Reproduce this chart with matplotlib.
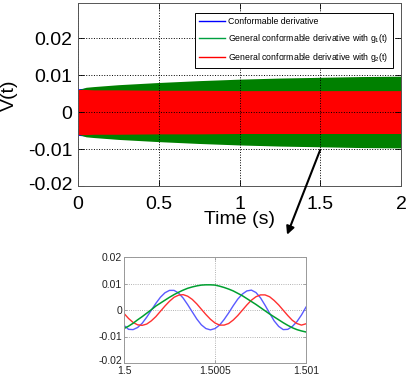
import numpy as np
import matplotlib
matplotlib.use("Agg")
import matplotlib.pyplot as plt
from matplotlib.lines import Line2D
from matplotlib.transforms import ScaledTranslation

plt.rcParams['font.family'] = ['Liberation Sans', 'DejaVu Sans']
plt.rcParams['mathtext.fontset'] = 'custom'
plt.rcParams['mathtext.rm'] = 'Liberation Sans'
plt.rcParams['mathtext.default'] = 'regular'

# envelopes of the fast oscillation over the whole 2 s
env_time = [0.0, 0.05, 0.1, 0.25, 0.5, 0.75, 1.0, 1.25, 1.5, 1.75, 2.0]
blue_amp = [0.0063, 0.0065, 0.0066, 0.0068, 0.0070, 0.0072, 0.0073, 0.0074, 0.0075, 0.0076, 0.0076]
green_amp = [0.0060, 0.0067, 0.0069, 0.0074, 0.0080, 0.0085, 0.0089, 0.0092, 0.0094, 0.0096, 0.0097]
red_amp = [0.0061, 0.0061, 0.0060, 0.0060, 0.0059, 0.0059, 0.0058, 0.0058, 0.0058, 0.0058, 0.0058]

# zoomed window 1.5 .. 1.501 s, samples every 25 us
zoom_time = 1.5 + np.arange(41) * 25e-6
zoom_blue = [-0.0058, -0.0073, -0.0074, -0.0066, -0.0050, -0.0027, -0.0001, 0.0025, 0.0048, 0.0065,
             0.0074, 0.0074, 0.0064, 0.0045, 0.0020, -0.0007, -0.0034, -0.0056, -0.0070, -0.0075,
             -0.0070, -0.0057, -0.0036, -0.0011, 0.0016, 0.0041, 0.0060, 0.0072, 0.0075, 0.0066,
             0.0046, 0.0018, -0.0012, -0.0041, -0.0062, -0.0074, -0.0073, -0.0062, -0.0044, -0.0019,
             0.0011]
zoom_green = [-0.0070, -0.0061, -0.0050, -0.0037, -0.0025, -0.0012, 0.0001, 0.0015, 0.0026, 0.0037,
              0.0048, 0.0058, 0.0067, 0.0075, 0.0082, 0.0087, 0.0091, 0.0094, 0.0095, 0.0095,
              0.0094, 0.0090, 0.0085, 0.0079, 0.0072, 0.0063, 0.0054, 0.0043, 0.0032, 0.0021,
              0.0009, -0.0003, -0.0015, -0.0026, -0.0037, -0.0048, -0.0058, -0.0067, -0.0074, -0.0079,
              -0.0083]
zoom_red = [-0.0013, -0.0032, -0.0047, -0.0056, -0.0058, -0.0053, -0.0041, -0.0025, -0.0005, 0.0015,
            0.0033, 0.0048, 0.0056, 0.0058, 0.0052, 0.0040, 0.0023, 0.0003, -0.0017, -0.0035,
            -0.0049, -0.0057, -0.0057, -0.0051, -0.0038, -0.0021, -0.0001, 0.0019, 0.0037, 0.0050,
            0.0057, 0.0057, 0.0050, 0.0036, 0.0019, -0.0001, -0.0021, -0.0039, -0.0051, -0.0057,
            -0.0052]

labels = ['Conformable derivative',
          'General conformable derivative with g$_1$(t)',
          'General conformable derivative with g$_2$(t)']
main_xticks = [0, 0.5, 1, 1.5, 2]
main_xticklabels = ['0', '0.5', '1', '1.5', '2']
main_yticks = [-0.02, -0.01, 0, 0.01, 0.02]
yticklabels = ['-0.02', '-0.01', '0', '0.01', '0.02']
zoom_xticks = [1.5, 1.5005, 1.501]
zoom_xticklabels = ['1.5', '1.5005', '1.501']

blue, green, red = '#0000ff', '#008000', '#ff0000'

W, H = 408, 376
fig = plt.figure(figsize=(W / 100, H / 100), dpi=100)

# main plot
ax = fig.add_axes([78 / W, 1 - 186 / H, 323 / W, 183 / H])
t = np.array(env_time)
for amp, c in [(blue_amp, blue), (green_amp, green), (red_amp, red)]:
    a = np.array(amp)
    ax.fill_between(t, -a, a, color=c, lw=0)
ax.set_xlim(0, 2)
ax.set_ylim(-0.02, 0.0295)
ax.set_xticks(main_xticks)
ax.set_xticklabels(main_xticklabels)
ax.set_yticks(main_yticks)
ax.set_yticklabels(yticklabels)
ax.tick_params(direction='in', length=4, width=0.6, labelsize=14, top=True, right=True)
ax.tick_params(axis='x', pad=7)
ax.tick_params(axis='y', pad=4)
ax.grid(True, color='k', ls=':', lw=0.7)
for s in ax.spines.values():
    s.set_linewidth(0.7)
    s.set_color('#555555')
# matlab puts the lowest y label a bit above the corner
lab = ax.get_yticklabels()[0]
lab.set_transform(lab.get_transform() + ScaledTranslation(0, 3 / 100, fig.dpi_scale_trans))

handles = [Line2D([], [], color=c, lw=1) for c in (blue, '#00a040', red)]
leg = ax.legend(handles, labels, loc='upper left', bbox_to_anchor=((195 - 78) / 323, (186 - 13) / 183),
                fontsize=6.3, frameon=True, fancybox=False, framealpha=1, edgecolor='k',
                handlelength=3.0, handletextpad=0.4, labelspacing=0.7, borderpad=0.42,
                borderaxespad=0)
leg.get_frame().set_linewidth(0.7)

fig.text(9 / W, 1 - 95 / H, 'V(t)', rotation=90, ha='center', va='center', fontsize=14)
fig.text(239.5 / W, 1 - 220 / H, 'Time (s)', ha='center', va='center', fontsize=14)

# zoomed inset
axz = fig.add_axes([124 / W, 1 - 363 / H, 182 / W, 106 / H])
axz.plot(zoom_time, zoom_blue, color='#5a5aff', lw=1)
axz.plot(zoom_time, zoom_red, color='#ff3030', lw=1)
axz.plot(zoom_time, zoom_green, color='#00a030', lw=1.1)
axz.set_xlim(1.5, 1.501)
axz.set_ylim(-0.02, 0.02)
axz.set_xticks(zoom_xticks)
axz.set_xticklabels(zoom_xticklabels)
axz.set_yticks(main_yticks)
axz.set_yticklabels(yticklabels)
axz.tick_params(direction='in', length=2, width=0.5, labelsize=7.5, pad=1.5, top=True, right=True,
                colors='#888888', labelcolor='#222222')
axz.tick_params(axis='x', pad=2.5)
axz.grid(True, color='#999999', ls=':', lw=0.6)
for s in axz.spines.values():
    s.set_linewidth(0.7)
    s.set_color('#999999')
lab = axz.get_yticklabels()[0]
lab.set_transform(lab.get_transform() + ScaledTranslation(0, 3 / 100, fig.dpi_scale_trans))

# arrow from the main band down to the zoom
ax.annotate('', xy=(0.896, 1.21), xycoords=axz.transAxes,
            xytext=(1.5, -0.0102), textcoords=ax.transData,
            arrowprops=dict(arrowstyle='-|>', color='k', lw=1.5, mutation_scale=12,
                            shrinkA=0, shrinkB=0))

fig.savefig('out.png', dpi=100)
